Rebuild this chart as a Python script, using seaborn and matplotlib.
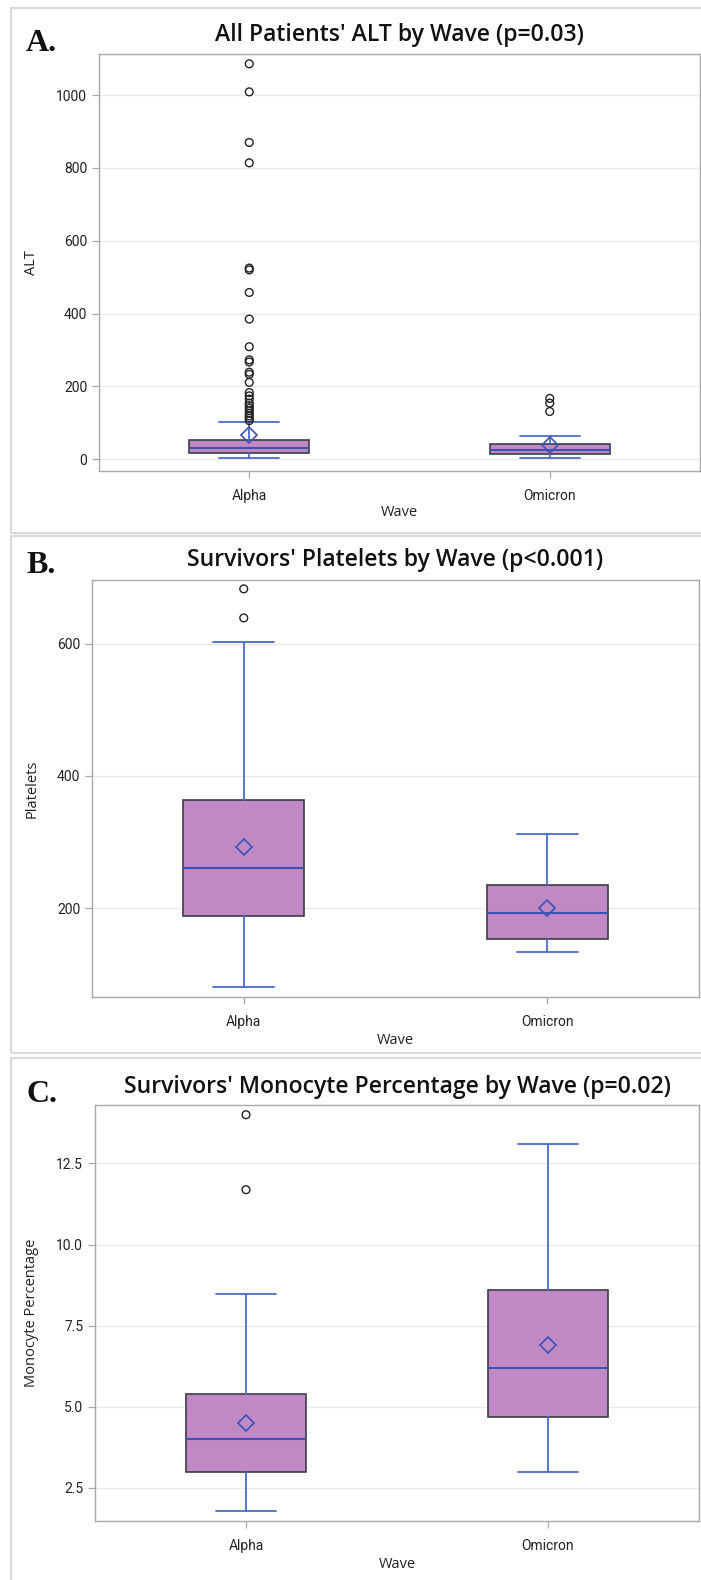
import numpy as np
import pandas as pd
import matplotlib
matplotlib.use("Agg")
import matplotlib.pyplot as plt
from matplotlib.patches import Rectangle
import seaborn as sns

# ---------------- data ----------------
waves = ["Alpha", "Omicron"]

# Panel A: ALT (all patients)
alt_q1 = [16.5, 14]
alt_med = [30, 25]
alt_q3 = [53, 42]
alt_whislo = [4, 4.5]
alt_whishi = [102, 64]
alt_mean = [67, 39]
alt_out_alpha = [1086, 1009, 870, 814, 525, 520, 458, 385, 309, 273, 267, 239,
                 233, 211, 183, 174, 165, 154, 147, 140, 133, 126, 119, 113, 106]
alt_out_omicron = [167, 154, 131]
alt_ticks = [0, 200, 400, 600, 800, 1000]

# Panel B: Platelets (survivors)
plt_q1 = [188, 154]
plt_med = [261, 192]
plt_q3 = [364, 235]
plt_whislo = [81, 134]
plt_whishi = [603, 312]
plt_mean = [293, 199.5]
plt_out_alpha = [683, 639]
plt_out_omicron = []
plt_ticks = [200, 400, 600]

# Panel C: Monocyte percentage (survivors)
mono_q1 = [3.0, 4.68]
mono_med = [4.0, 6.2]
mono_q3 = [5.39, 8.59]
mono_whislo = [1.8, 3.0]
mono_whishi = [8.49, 13.09]
mono_mean = [4.51, 6.9]
mono_out_alpha = [14.0, 11.69]
mono_out_omicron = []
mono_ticks = [2.5, 5.0, 7.5, 10.0, 12.5]

# ---------------- style ----------------
sns.set_theme(style="white")
plt.rcParams["font.family"] = ["Roboto", "DejaVu Sans"]

W, H = 701, 1580
fig = plt.figure(figsize=(W / 100, H / 100), dpi=100)
fig.patch.set_facecolor("white")

BOX_FILL = "#BF89C4"
BOX_EDGE = "#3C3C46"
WHISK = "#4A6CC4"
MED = "#3D52B4"
GRID = "#EBEBEB"
SPINE = "#A8A8A8"
TXT = "#222222"


def add_ax(l, r, t, b):
    return fig.add_axes([l / W, 1 - b / H, (r - l) / W, (b - t) / H])


def panel(ax, q1, med, q3, lo, hi, mean, out_a, out_o, ylabel, ylim, ticks,
          fmt, title, letter, title_y, letter_y, xlab_y, tick_label_pad):
    l, b, w, h = ax.get_position().bounds
    # outliers via seaborn
    df = pd.DataFrame({"Wave": ["Alpha"] * len(out_a) + ["Omicron"] * len(out_o),
                       ylabel: list(out_a) + list(out_o)})
    sns.stripplot(data=df, x="Wave", y=ylabel, order=waves, jitter=False,
                  size=5.6, marker="o", fc="none", edgecolor="#222222",
                  linewidth=1.0, color="#222222", ax=ax, zorder=4)
    stats = []
    for i in range(2):
        stats.append(dict(q1=q1[i], med=med[i], q3=q3[i], whislo=lo[i],
                          whishi=hi[i], mean=mean[i], fliers=[]))
    ax.bxp(stats, positions=[0, 1], widths=0.4, capwidths=0.2,
           patch_artist=True, showmeans=True, showfliers=False,
           manage_ticks=False,
           boxprops=dict(facecolor=BOX_FILL, edgecolor=BOX_EDGE, linewidth=1.2),
           whiskerprops=dict(color=WHISK, linewidth=1.3),
           capprops=dict(color=WHISK, linewidth=1.3),
           medianprops=dict(color=MED, linewidth=1.5),
           meanprops=dict(marker="D", markerfacecolor="none",
                          markeredgecolor=MED, markersize=8.5,
                          markeredgewidth=1.2))
    ax.set_xlim(-0.5, 1.5)
    ax.set_ylim(*ylim)
    ax.set_xticks([0, 1])
    ax.set_xticklabels(waves)
    ax.set_yticks(ticks)
    ax.set_yticklabels([fmt.format(t) for t in ticks])
    ax.yaxis.grid(True, color=GRID, linewidth=1.0, zorder=0)
    ax.set_axisbelow(True)
    for s in ax.spines.values():
        s.set_color(SPINE)
        s.set_linewidth(1.0)
    ax.tick_params(axis="both", colors=SPINE, labelcolor=TXT, labelsize=10,
                   length=5, width=0.9, left=True, bottom=True)
    ax.tick_params(axis="x", pad=tick_label_pad)
    ax.set_xlabel("Wave", fontsize=10.5, color=TXT, family=["Open Sans", "DejaVu Sans"])
    ax.set_ylabel(ylabel, fontsize=10.5, color=TXT, family=["Open Sans", "DejaVu Sans"])
    ax.xaxis.label.set_va("center")
    ax.yaxis.label.set_va("center")
    axb_px = (1 - b) * H
    ax.xaxis.set_label_coords(0.5, -(xlab_y - axb_px) / (h * H))
    ax.yaxis.set_label_coords((32 - l * W) / (w * W), 0.5)
    # title + panel letter
    cx = (l + w / 2)
    fig.text(cx, 1 - title_y / H, title, ha="center", va="baseline",
             fontsize=16.6, fontweight="semibold", color="#111111",
             family=["Open Sans", "DejaVu Sans"])
    fig.text(26 / W, 1 - letter_y / H, letter, ha="left", va="baseline",
             fontsize=23, fontweight="bold", color="#111111",
             family=["Liberation Serif", "DejaVu Serif"])


# panel frames
for (t, b) in [(8, 533), (536, 1053), (1058, 1590)]:
    fig.patches.append(Rectangle((11 / W, 1 - b / H), 720 / W, (b - t) / H,
                                 transform=fig.transFigure, fill=False,
                                 edgecolor="#DADADA", linewidth=1.6))

axA = add_ax(99, 700, 54, 470.5)
panel(axA, alt_q1, alt_med, alt_q3, alt_whislo, alt_whishi, alt_mean,
      alt_out_alpha, alt_out_omicron, "ALT", (-31, 1113), alt_ticks, "{:g}",
      "All Patients' ALT by Wave (p=0.03)", "A.", 40.6, 51, 513, 8)

axB = add_ax(92, 699, 580, 997)
panel(axB, plt_q1, plt_med, plt_q3, plt_whislo, plt_whishi, plt_mean,
      plt_out_alpha, plt_out_omicron, "Platelets", (65.5, 696.4), plt_ticks, "{:g}",
      "Survivors' Platelets by Wave (p<0.001)", "B.", 566, 573, 1040, 8)

axC = add_ax(95, 699, 1105, 1521)
panel(axC, mono_q1, mono_med, mono_q3, mono_whislo, mono_whishi, mono_mean,
      mono_out_alpha, mono_out_omicron, "Monocyte Percentage", (1.48, 14.3),
      mono_ticks, "{:.1f}",
      "Survivors' Monocyte Percentage by Wave (p=0.02)", "C.", 1093, 1102, 1564, 8)

fig.savefig("out.png", dpi=100, facecolor="white")
